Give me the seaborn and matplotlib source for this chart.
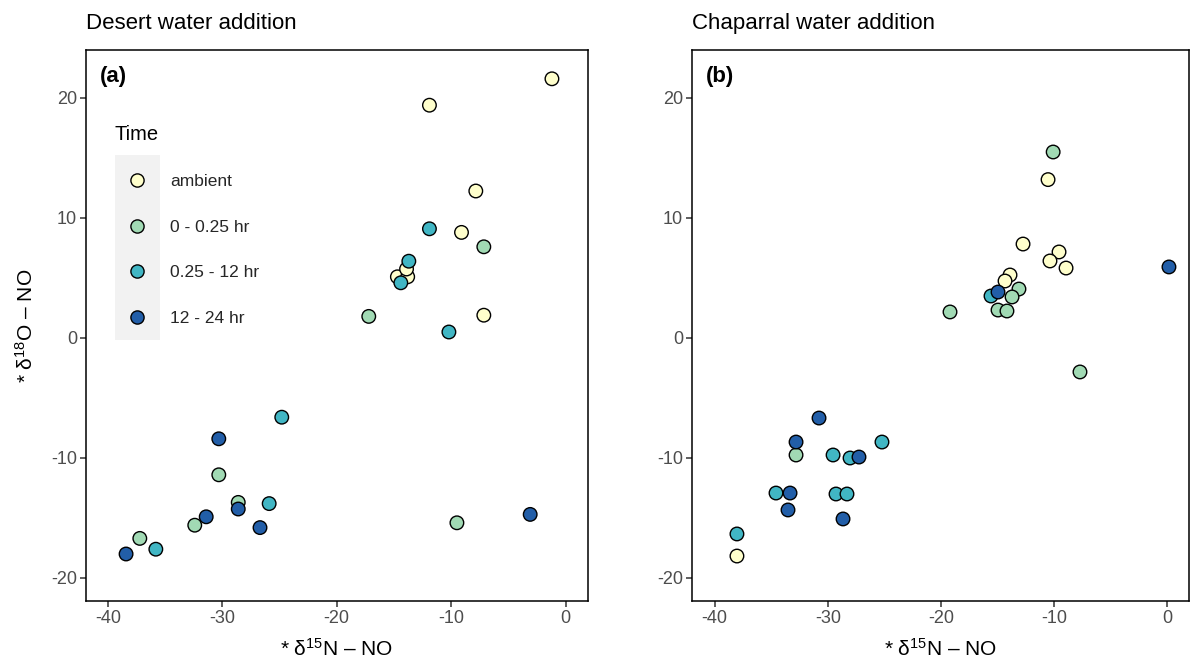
import numpy as np
import pandas as pd
import seaborn as sns
import matplotlib
matplotlib.use("Agg")
import matplotlib.pyplot as plt
from matplotlib.lines import Line2D
from matplotlib.patches import Rectangle

sns.set_theme(style="white")
plt.rcParams['font.family'] = ['Liberation Sans', 'DejaVu Sans']
plt.rcParams['mathtext.fontset'] = 'custom'
plt.rcParams['mathtext.rm'] = 'Liberation Sans'
plt.rcParams['mathtext.it'] = 'Liberation Sans'

# ---------------- data ----------------
time_levels = ["ambient", "0 - 0.25 hr", "0.25 - 12 hr", "12 - 24 hr"]
palette_colors = ["#FFFFCC", "#A1DAB4", "#41B6C4", "#225EA8"]

# Desert (panel a)
desert_amb_x = [-1.2, -11.9, -7.85, -9.1, -14.7, -13.8, -7.15, -13.9]
desert_amb_y = [21.6, 19.4, 12.25, 8.8, 5.1, 5.1, 1.9, 5.75]
desert_g_x = [-7.15, -17.2, -9.5, -30.3, -28.6, -32.4, -37.2]
desert_g_y = [7.6, 1.8, -15.4, -11.4, -13.7, -15.6, -16.7]
desert_t_x = [-11.9, -13.7, -14.4, -10.2, -24.8, -25.9, -35.8]
desert_t_y = [9.1, 6.4, 4.6, 0.5, -6.6, -13.8, -17.6]
desert_d_x = [-3.1, -30.3, -28.6, -31.4, -26.7, -38.4]
desert_d_y = [-14.7, -8.4, -14.25, -14.9, -15.8, -18.0]

# Chaparral (panel b)
chap_amb_x = [-10.55, -12.76, -9.58, -10.38, -8.96, -13.91, -14.35, -38.03]
chap_amb_y = [13.2, 7.83, 7.17, 6.42, 5.83, 5.25, 4.75, -18.17]
chap_g_x = [-10.1, -13.12, -13.73, -14.97, -14.18, -19.21, -7.73, -32.81]
chap_g_y = [15.5, 4.08, 3.42, 2.33, 2.25, 2.17, -2.83, -9.75]
chap_t_x = [-15.59, -29.54, -28.04, -25.22, -34.58, -29.28, -28.31, -38.03]
chap_t_y = [3.5, -9.75, -10.0, -8.67, -12.92, -13.0, -13.0, -16.33]
chap_d_x = [0.13, -14.97, -30.78, -32.81, -27.25, -33.34, -33.52, -28.66]
chap_d_y = [5.92, 3.83, -6.67, -8.67, -9.92, -12.92, -14.33, -15.08]

x_ticks = [-40, -30, -20, -10, 0]
y_ticks = [-20, -10, 0, 10, 20]


def build(groups):
    rows = []
    for lvl, (xs, ys) in zip(time_levels, groups):
        for x, y in zip(xs, ys):
            rows.append({"d15N": x, "d18O": y, "Time": lvl})
    return pd.DataFrame(rows)


df_a = build([(desert_amb_x, desert_amb_y), (desert_g_x, desert_g_y),
              (desert_t_x, desert_t_y), (desert_d_x, desert_d_y)])
df_b = build([(chap_amb_x, chap_amb_y), (chap_g_x, chap_g_y),
              (chap_t_x, chap_t_y), (chap_d_x, chap_d_y)])

pal = dict(zip(time_levels, palette_colors))

W, H = 1194, 670
fig = plt.figure(figsize=(W / 100, H / 100), dpi=100)

top_px, bot_px = 50, 601
ax_a = fig.add_axes([86 / W, 1 - bot_px / H, 502 / W, (bot_px - top_px) / H])
ax_b = fig.add_axes([692 / W, 1 - bot_px / H, 497 / W, (bot_px - top_px) / H])

xlabel = r"* δ$^{15}$N – NO"
ylabel = r"* δ$^{18}$O – NO"

for ax, df, title, tag, xlim in [
        (ax_a, df_a, "Desert water addition", "(a)", (-41.9, 1.95)),
        (ax_b, df_b, "Chaparral water addition", "(b)", (-42.0, 1.9))]:
    sns.scatterplot(data=df, x="d15N", y="d18O", hue="Time", hue_order=time_levels,
                    palette=pal, s=95, edgecolor="black", linewidth=1.0,
                    ax=ax, legend=False, zorder=3)
    ax.set_xlim(*xlim)
    ax.set_ylim((338 - bot_px) / 12, (338 - top_px) / 12)
    ax.set_xticks(x_ticks)
    ax.set_yticks(y_ticks)
    ax.set_xticklabels([str(t) for t in x_ticks])
    ax.set_yticklabels([str(t) for t in y_ticks])
    ax.tick_params(axis="both", length=4, width=1.1, color="#333333",
                   labelcolor="#4D4D4D", labelsize=13, pad=2.5,
                   bottom=True, left=True, direction="out")
    for sp in ax.spines.values():
        sp.set_color("black")
        sp.set_linewidth(1.1)
    ax.grid(False)
    ax.set_facecolor("white")
    ax.set_xlabel(xlabel, fontsize=15, color="black", labelpad=8)
    ax.set_title(title, loc="left", fontsize=16, color="black", pad=15)
    ax.text(0.027, 0.952, tag, transform=ax.transAxes, fontsize=16,
            fontweight="bold", va="center", ha="left", color="black")

ax_a.set_ylabel(ylabel, fontsize=15, color="black", labelpad=10)
ax_b.set_ylabel("")

# legend in panel a
handles = [Line2D([0], [0], marker="o", linestyle="", markersize=9.5,
                  markerfacecolor=c, markeredgecolor="black", markeredgewidth=1.0)
           for c in palette_colors]
leg = ax_a.legend(handles, time_levels, title="Time", loc="upper left",
                  bbox_to_anchor=(106 / W, 1 - 116 / H), bbox_transform=fig.transFigure,
                  frameon=False, fontsize=12.5, title_fontsize=14.5,
                  handlelength=2.6, handletextpad=0.6, labelspacing=1.75,
                  borderpad=0, alignment="left")
leg.get_title().set_color("black")
leg.set_zorder(5)
ax_a.add_patch(Rectangle((115 / W, 1 - 340 / H), 45 / W, 185 / H,
                         transform=fig.transFigure, facecolor="#F2F2F2",
                         edgecolor="none", zorder=1, clip_on=False))

fig.savefig("out.png", dpi=100, facecolor="white")
